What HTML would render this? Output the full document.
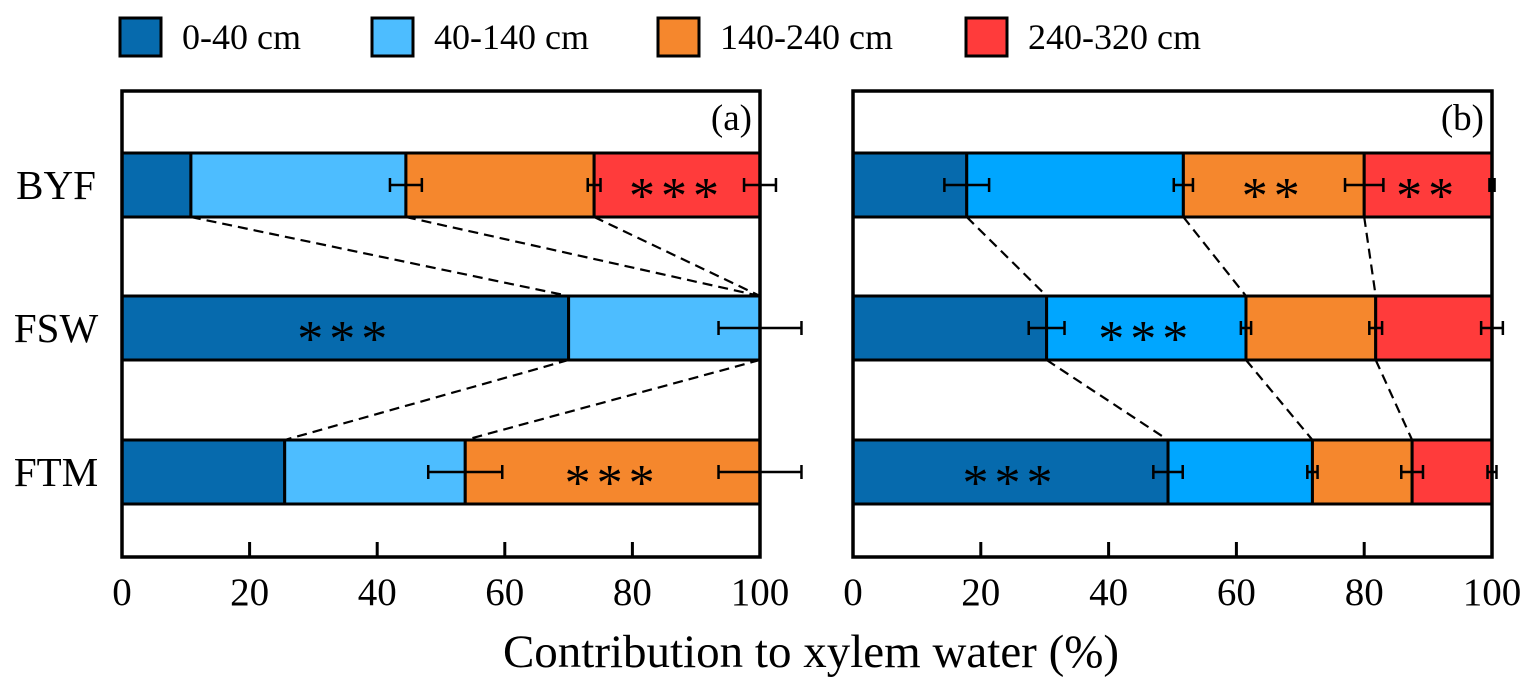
<!DOCTYPE html>
<html><head><meta charset="utf-8"><style>
body{margin:0;background:#fff;}
svg text{font-family:"Liberation Serif",serif;fill:#000;}
</style></head><body>
<svg id="chart" width="1534" height="693" viewBox="0 0 1534 693" xmlns="http://www.w3.org/2000/svg">
<g id="legend"></g>
<g id="pa"></g>
<g id="pb"></g>
<text x="811" y="667" font-size="47" text-anchor="middle">Contribution to xylem water (%)</text>
</svg>
<script>
const categories = ["BYF","FSW","FTM"];
const layers = ["0-40 cm","40-140 cm","140-240 cm","240-320 cm"];
const ticks = [0,20,40,60,80,100];
const aValues = [[10.8,33.7,29.5,26.0],[70.0,30.0,0,0],[25.5,28.3,46.2,0]];
const aErrors = [[0,2.5,1.0,2.5],[0,6.5,0,0],[0,5.8,6.5,0]];
const aStars = [[3,"***"],[0,"***"],[2,"***"]];
const bValues = [[17.8,33.9,28.3,20.0],[30.3,31.2,20.3,18.2],[49.3,22.6,15.6,12.5]];
const bErrors = [[3.5,1.5,3.0,0.4],[2.8,0.8,1.0,1.7],[2.3,0.8,1.7,0.7]];
const bStars = [[2,"**",3,"**"],[1,"***"],[0,"***"]];
const colorsA = ["#066aad","#4dbdff","#f5872d","#ff3b3b"];
const colorsB = ["#066aad","#00a6ff","#f5872d","#ff3b3b"];
const NS="http://www.w3.org/2000/svg";
function mk(tag,attrs,parent){const e=document.createElementNS(NS,tag);for(const k in attrs)e.setAttribute(k,attrs[k]);parent.appendChild(e);return e;}
const plotTop=91,plotBottom=557,rowY=[153,296,440],barH=64;
const lg=document.getElementById('legend');
const lx=[120,372,658,966];
layers.forEach((l,i)=>{
  const r=mk('rect',{x:lx[i],y:18,width:41,height:38,fill:colorsA[i],stroke:'#000','stroke-width':3},lg);
  
  
  const t=mk('text',{x:lx[i]+62,y:49,'font-size':36},lg);t.textContent=l;
  
  
});
function panel(g,x0,x1,vals,errs,stars,colors,tag,showY){
  const sx=v=>x0+(x1-x0)*v/100;
  for(let r=0;r<2;r++){
    let c1=0,c2=0;
    for(let i=0;i<3;i++){c1+=vals[r][i];c2+=vals[r+1][i];
      const ln=mk('line',{x1:sx(c1),y1:rowY[r]+barH,x2:sx(c2),y2:rowY[r+1],stroke:'#000','stroke-width':2.2,'stroke-dasharray':'10,6'},g);
      
      
    }
  }
  vals.forEach((row,r)=>{
    let c=0;
    row.forEach((v,i)=>{
      if(v>0){const rc=mk('rect',{x:sx(c),y:rowY[r],width:sx(c+v)-sx(c),height:barH,fill:colors[i],stroke:'#000','stroke-width':3},g);
      
      }
      c+=v;
    });
    c=0;
    row.forEach((v,i)=>{
      c+=v;const e=errs[r][i];
      if(e>0){const ym=rowY[r]+barH/2;
        const eb=mk('path',{d:`M${sx(c-e)},${ym}H${sx(c+e)}M${sx(c-e)},${ym-7}V${ym+7}M${sx(c+e)},${ym-7}V${ym+7}`,stroke:'#000','stroke-width':2.5,fill:'none'},g);
        
        }
    });
    const s=stars[r];
    for(let k=0;k<s.length;k+=2){
      const li=s[k];let st=0;for(let i=0;i<li;i++)st+=row[i];
      const t=mk('text',{x:sx(st+row[li]/2),y:rowY[r]+barH/2+28,'font-size':52,'text-anchor':'middle','letter-spacing':'6'},g);
      t.textContent=s[k+1];
      
      
    }
    if(showY){const t=mk('text',{x:56,y:rowY[r]+barH/2+14,'font-size':41,'text-anchor':'middle'},g);t.textContent=categories[r];
      
      }
  });
  const fr=mk('rect',{x:x0,y:plotTop,width:x1-x0,height:plotBottom-plotTop,fill:'none',stroke:'#000','stroke-width':3.5},g);
  
  
  ticks.forEach(tv=>{
    const tl=mk('line',{x1:sx(tv),y1:plotBottom,x2:sx(tv),y2:plotBottom-15,stroke:'#000','stroke-width':3},g);
    
    
    const t=mk('text',{x:sx(tv),y:605,'font-size':39,'text-anchor':'middle'},g);t.textContent=tv;
    
    
  });
  const pl=mk('text',{x:x1-8,y:130,'font-size':37,'text-anchor':'end'},g);pl.textContent=tag;
  
  
}
panel(document.getElementById('pa'),122,760,aValues,aErrors,aStars,colorsA,'(a)',true);
panel(document.getElementById('pb'),853,1492,bValues,bErrors,bStars,colorsB,'(b)',false);
</script>
</body></html>
